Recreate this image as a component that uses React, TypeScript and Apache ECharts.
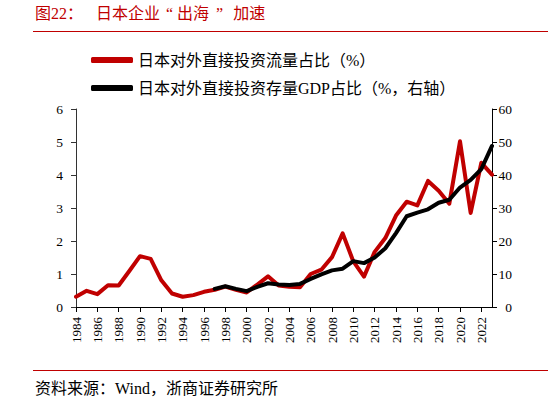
import React, { useEffect, useRef } from "react";
import * as echarts from "echarts";

const years = [
  "1984", "1985", "1986", "1987", "1988", "1989", "1990", "1991", "1992", "1993",
  "1994", "1995", "1996", "1997", "1998", "1999", "2000", "2001", "2002", "2003",
  "2004", "2005", "2006", "2007", "2008", "2009", "2010", "2011", "2012", "2013",
  "2014", "2015", "2016", "2017", "2018", "2019", "2020", "2021", "2022", "2023",
];

// 日本对外直接投资流量占比（%） left axis
const flowShare = [
  0.31, 0.49, 0.39, 0.66, 0.65, 1.09, 1.54, 1.46, 0.81, 0.41,
  0.31, 0.36, 0.46, 0.52, 0.62, 0.52, 0.44, 0.68, 0.93, 0.65,
  0.61, 0.6, 1.0, 1.13, 1.51, 2.23, 1.38, 0.92, 1.67, 2.09,
  2.77, 3.19, 3.08, 3.82, 3.52, 3.13, 5.02, 2.85, 4.37, 4.01,
];

// 日本对外直接投资存量GDP占比（%，右轴）
const stockGdp = [
  null, null, null, null, null, null, null, null, null, null,
  null, null, null, 5.5, 6.3, 5.5, 4.8, 6.1, 7.2, 6.8,
  6.7, 7.0, 8.5, 9.9, 11.1, 11.6, 13.9, 13.3, 15.0, 17.8,
  22.4, 27.5, 28.6, 29.6, 31.6, 32.5, 36.2, 38.5, 41.8, 48.8,
];

const seriesNames = ["日本对外直接投资流量占比（%）", "日本对外直接投资存量GDP占比（%，右轴）"];
const titleLabel = "图22：";
const titleParts = ["日本企业", "“", "出海", "”", "加速"];
const sourceText = "资料来源：Wind，浙商证券研究所";

const FONT = "'Liberation Serif', 'Noto Sans CJK SC', serif";
const RED = "#C00000";

export default function App() {
  const ref = useRef<HTMLDivElement>(null);
  useEffect(() => {
    if (!ref.current) return;
    const chart = echarts.init(ref.current, undefined, { renderer: "svg" });
    const titleRich =
      "{a|" + titleParts[0] + "}{q1|" + titleParts[1] + "}{a|" + titleParts[2] +
      "}{q2|" + titleParts[3] + "}{a|" + titleParts[4] + "}";
    chart.setOption({
      animation: false,
      backgroundColor: "#fff",
      textStyle: { fontFamily: FONT },
      grid: { left: 76, right: 56, top: 109, bottom: 95, containLabel: false },
      legend: {
        orient: "vertical",
        left: 91,
        top: 52,
        padding: 0,
        itemWidth: 42,
        itemHeight: 6,
        itemGap: 12,
        icon: "roundRect",
        textStyle: { fontFamily: FONT, fontSize: 16, color: "#000", lineHeight: 16 },
        data: seriesNames,
      },
      xAxis: {
        type: "category",
        boundaryGap: false,
        data: years,
        axisLine: { show: true, lineStyle: { color: "#000", width: 1 } },
        axisTick: { show: true, interval: 1, length: 5, lineStyle: { color: "#000" } },
        axisLabel: {
          interval: 1,
          rotate: 90,
          margin: 10,
          fontSize: 13,
          color: "#000",
          fontFamily: FONT,
        },
        splitLine: { show: false },
      },
      yAxis: [
        {
          type: "value",
          min: 0,
          max: 6,
          interval: 1,
          position: "left",
          axisLine: { show: true, lineStyle: { color: "#333", width: 1 } },
          axisTick: { show: true, length: 5, lineStyle: { color: "#333" } },
          axisLabel: { margin: 13, fontSize: 13.5, color: "#000", fontFamily: FONT },
          splitLine: { show: false },
        },
        {
          type: "value",
          min: 0,
          max: 60,
          interval: 10,
          position: "right",
          axisLine: { show: true, lineStyle: { color: "#000", width: 1 } },
          axisTick: { show: true, length: 5, lineStyle: { color: "#000" } },
          axisLabel: { margin: 20, align: "right", fontSize: 13.5, color: "#000", fontFamily: FONT },
          splitLine: { show: false },
        },
      ],
      series: [
        {
          name: seriesNames[0],
          type: "line",
          data: flowShare,
          yAxisIndex: 0,
          symbol: "none",
          color: RED,
          lineStyle: { width: 4, color: RED, join: "round", cap: "round" },
        },
        {
          name: seriesNames[1],
          type: "line",
          data: stockGdp,
          yAxisIndex: 1,
          symbol: "none",
          color: "#000",
          lineStyle: { width: 4, color: "#000", join: "round", cap: "round" },
        },
      ],
      graphic: [
        {
          type: "text",
          left: 35,
          top: 5,
          style: { text: titleLabel, fill: RED, fontSize: 16, fontFamily: FONT },
        },
        {
          type: "text",
          left: 96,
          top: 5,
          style: {
            text: titleRich,
            fill: RED,
            fontSize: 16,
            fontFamily: FONT,
            rich: {
              a: { fill: RED, fontSize: 16, fontFamily: FONT },
              q1: { fill: RED, fontSize: 16, fontFamily: FONT, padding: [0, 4, 0, 6] },
              q2: { fill: RED, fontSize: 16, fontFamily: FONT, padding: [0, 10, 0, 7] },
            },
          },
        },
        {
          type: "line",
          shape: { x1: 33, y1: 31.5, x2: 548, y2: 31.5 },
          style: { stroke: RED, lineWidth: 1 },
        },
        {
          type: "line",
          shape: { x1: 33, y1: 370.5, x2: 548, y2: 370.5 },
          style: { stroke: RED, lineWidth: 1 },
        },
        {
          type: "text",
          left: 35,
          top: 380,
          style: { text: sourceText, fill: "#000", fontSize: 16, fontFamily: FONT },
        },
      ],
    });
    return () => chart.dispose();
  }, []);
  return (
    <div
      ref={ref}
      style={{ position: "fixed", left: 0, top: 0, width: 548, height: 402, background: "#fff" }}
    />
  );
}
